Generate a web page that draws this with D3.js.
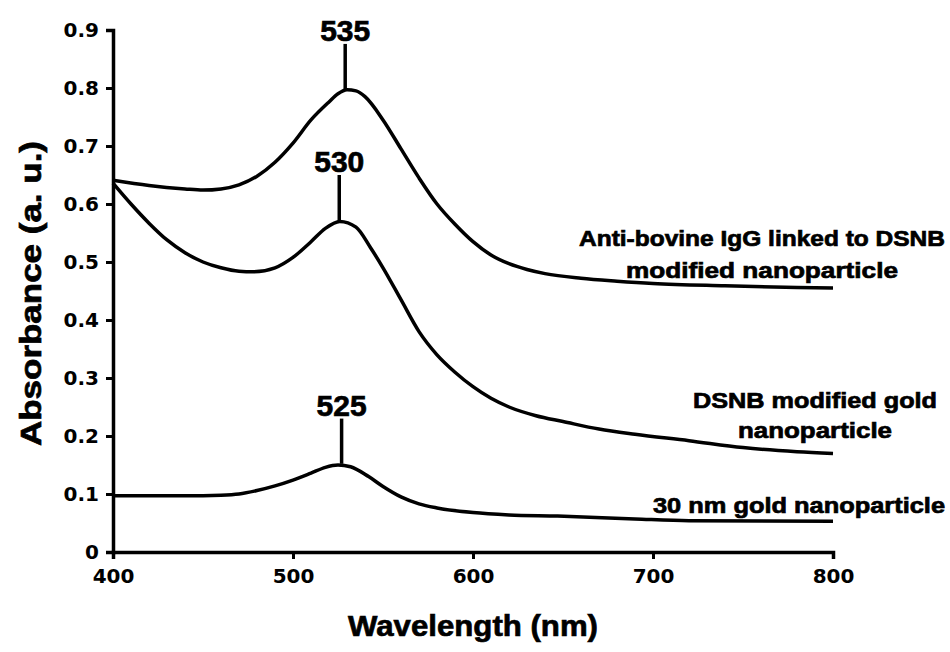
<!DOCTYPE html>
<html>
<head>
<meta charset="utf-8">
<script src="https://cdn.jsdelivr.net/npm/d3@7"></script>
<style>
  body { margin: 0; background: #fff; }
  text { font-family: "Liberation Sans", Arial, sans-serif; font-weight: bold; fill: #000; }
  .heavy { stroke: #000; stroke-width: 0.7px; }
</style>
</head>
<body>
<div id="chart"></div>
<script>
// wavelengths (nm) and absorbance
const wlA = [400, 420, 440, 450, 460, 470, 480, 490, 500, 510, 520, 525, 530, 535, 540, 550, 560, 570, 580, 590, 600, 610, 620, 630, 640, 660, 680, 700, 740, 780, 800];
const absA = [0.641, 0.632, 0.626, 0.624, 0.626, 0.633, 0.648, 0.672, 0.705, 0.745, 0.776, 0.79, 0.797, 0.795, 0.785, 0.745, 0.695, 0.645, 0.6, 0.565, 0.535, 0.512, 0.497, 0.487, 0.48, 0.472, 0.467, 0.463, 0.459, 0.456, 0.455];

const wlB = [400, 410, 420, 430, 440, 450, 460, 470, 478, 490, 500, 510, 518, 526, 535, 543, 550, 560, 570, 580, 590, 600, 610, 620, 635, 650, 670, 690, 720, 750, 780, 800];
const absB = [0.636, 0.6, 0.567, 0.538, 0.516, 0.5, 0.49, 0.484, 0.483, 0.49, 0.508, 0.535, 0.558, 0.57, 0.56, 0.525, 0.49, 0.435, 0.38, 0.34, 0.31, 0.285, 0.265, 0.25, 0.235, 0.225, 0.212, 0.203, 0.192, 0.18, 0.173, 0.17];

const wlC = [400, 440, 460, 470, 480, 490, 500, 510, 518, 525, 532, 542, 550, 560, 570, 580, 600, 620, 647, 690, 720, 800];
const absC = [0.097, 0.097, 0.098, 0.1, 0.106, 0.114, 0.124, 0.136, 0.146, 0.15, 0.147, 0.13, 0.113, 0.095, 0.083, 0.076, 0.068, 0.064, 0.062, 0.057, 0.054, 0.053];

// peak markers: label, wavelength of stick, stick bottom / top (absorbance)
const peakLabels = ["535", "530", "525"];
const peakX = [529, 525.7, 527];
const peakLow = [0.797, 0.57, 0.152];
const peakHigh = [0.876, 0.65, 0.23];

// series labels
const seriesLabels = [
  "Anti-bovine IgG linked to DSNB", "modified nanoparticle",
  "DSNB modified gold", "nanoparticle",
  "30 nm gold nanoparticle"
];

const xTicks = [400, 500, 600, 700, 800];
const yTicks = [0, 0.1, 0.2, 0.3, 0.4, 0.5, 0.6, 0.7, 0.8, 0.9];

// layout
const W = 950, H = 652;
const margin = { top: 30, right: 117, bottom: 100, left: 113 };
const width = W - margin.left - margin.right;
const height = H - margin.top - margin.bottom;
// label placement in pixels: centre x, baseline y, text length
const labelPos = [
  [762, 246, 366], [762, 278, 272],
  [815, 408, 244], [815, 438, 154],
  [799, 513, 292]
];

const svg = d3.select("#chart").append("svg")
    .attr("width", W).attr("height", H);
const g = svg.append("g").attr("transform", `translate(${margin.left},${margin.top})`);

const x = d3.scaleLinear().domain([400, 800]).range([0, width]);
const y = d3.scaleLinear().domain([0, 0.9]).range([height, 0]);

// axes
const yAxis = g.append("g")
    .call(d3.axisLeft(y).tickValues(yTicks).tickSize(7).tickPadding(7)
        .tickFormat(d => d === 0 ? "0" : d3.format(".1f")(d)));
const xAxis = g.append("g")
    .attr("transform", `translate(0,${height})`)
    .call(d3.axisBottom(x).tickValues(xTicks).tickSize(7).tickPadding(10));
[xAxis, yAxis].forEach(a => {
  a.select(".domain").attr("stroke-width", 3.5).attr("stroke", "#000");
  a.selectAll(".tick line").attr("stroke-width", 3).attr("stroke", "#000");
  a.selectAll(".tick text")
    .attr("font-size", 20)
    .style("font-family", "'DejaVu Sans', sans-serif");
});

// curves
const line = d3.line().x(d => x(d[0])).y(d => y(d[1])).curve(d3.curveMonotoneX);
[[wlA, absA], [wlB, absB], [wlC, absC]].forEach(([wl, ab]) => {
  g.append("path")
    .datum(d3.zip(wl, ab))
    .attr("fill", "none")
    .attr("stroke", "#000")
    .attr("stroke-width", 3.5)
    .attr("stroke-linejoin", "round")
    .attr("d", line);
});

// peak markers
peakLabels.forEach((t, i) => {
  g.append("line")
    .attr("x1", x(peakX[i])).attr("x2", x(peakX[i]))
    .attr("y1", y(peakLow[i])).attr("y2", y(peakHigh[i]))
    .attr("stroke", "#000").attr("stroke-width", 3.5);
  g.append("text")
    .attr("class", "heavy")
    .attr("x", x(peakX[i])).attr("y", y(peakHigh[i]) - 3)
    .attr("text-anchor", "middle")
    .attr("font-size", 29)
    .attr("textLength", 50)
    .attr("lengthAdjust", "spacingAndGlyphs")
    .text(t);
});

// series labels
seriesLabels.forEach((s, i) => {
  const [cx, by, len] = labelPos[i];
  svg.append("text")
    .attr("class", "heavy")
    .attr("x", cx - len / 2)
    .attr("y", by)
    .attr("font-size", 22)
    .attr("textLength", len)
    .attr("lengthAdjust", "spacingAndGlyphs")
    .text(s);
});

// axis titles
svg.append("text")
  .attr("class", "heavy")
  .attr("x", margin.left + width / 2 - 125)
  .attr("y", H - 16)
  .attr("font-size", 30)
  .attr("textLength", 250)
  .attr("lengthAdjust", "spacingAndGlyphs")
  .text("Wavelength (nm)");
svg.append("text")
  .attr("class", "heavy")
  .attr("transform", `translate(${41},${margin.top + height / 2 + 155}) rotate(-90)`)
  .attr("font-size", 30)
  .attr("textLength", 305)
  .attr("lengthAdjust", "spacingAndGlyphs")
  .text("Absorbance (a. u.)");
</script>
</body>
</html>
